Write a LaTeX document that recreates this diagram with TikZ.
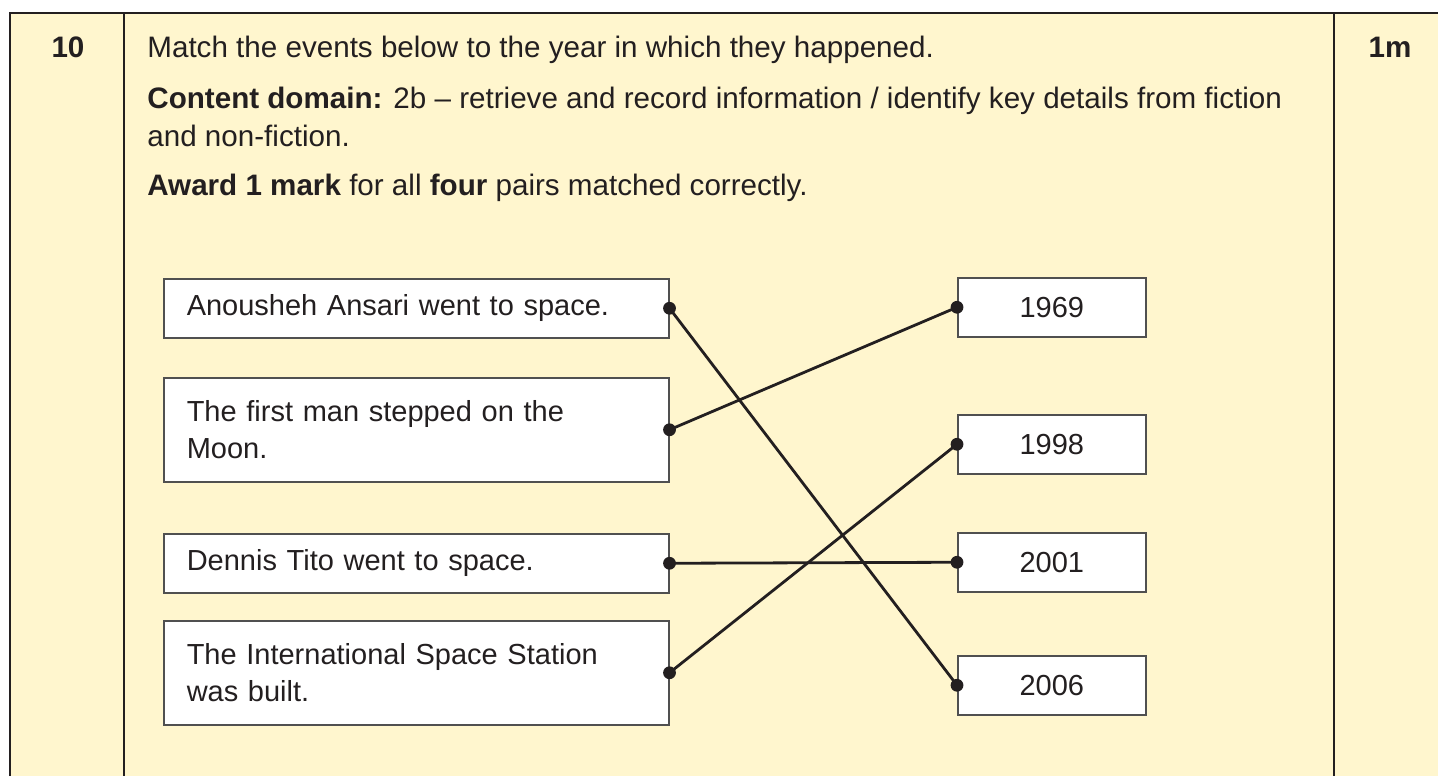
\documentclass[tikz,border=0pt]{standalone}
\usepackage{fontspec}
\setmainfont{Liberation Sans}
\usepackage{xcolor}
\usepackage{tikz}
\usetikzlibrary{positioning}
\definecolor{paleyellow}{RGB}{255,246,206}
\definecolor{ink}{RGB}{35,31,32}
\definecolor{boxgray}{RGB}{80,80,80}
\def\txt{\fontsize{14.8}{19}\selectfont}
\def\boxtxt{\fontsize{14.5}{18.75}\selectfont}

\tikzset{
  event/.style={draw=boxgray, line width=0.75pt, fill=white, anchor=north west, inner xsep=11.5pt, inner ysep=0pt, text width=229.5pt, align=left, font=\boxtxt, text=ink},
  year/.style={draw=boxgray, line width=0.75pt, fill=white, anchor=north west, minimum width=94pt, minimum height=29.5pt, inner sep=0pt, font=\boxtxt, text=ink},
  link/.style={line width=1.4pt, draw=ink},
  dot/.style={fill=ink}
}

\begin{document}
\begin{tikzpicture}[x=0.5pt, y=-0.5pt]
\useasboundingbox (0,0) rectangle (1438,776);
\fill[paleyellow] (10,13) rectangle (1438,776);
\draw[ink, line width=1.2pt] (10,776) -- (10,13) -- (1438,13);
\draw[ink, line width=0.8pt] (124,13) -- (124,776);
\draw[ink, line width=0.8pt] (1334,13) -- (1334,776);

\node[font=\txt\bfseries, text=ink] (qnum) at (68,47) {10};
\node[font=\txt\bfseries, text=ink] (marks) at (1390,47) {1m};

\node[anchor=base west, inner sep=0pt, font=\txt, text=ink] (task) at (147,57) {Match the events below to the year in which they happened.};
\node[anchor=north west, inner sep=0pt, align=left, font=\txt, text=ink] (domain) at (147,87) {\textbf{Content domain:} 2b -- retrieve and record information / identify key details from fiction\\and non-fiction.};
\node[anchor=base west, inner sep=0pt, font=\txt, text=ink] (award) at (147,195) {\textbf{Award 1 mark} for all \textbf{four} pairs matched correctly.};

% events
\node[event, minimum height=29.5pt] (ansari) at (163,278) {Anousheh Ansari went to space.};
\node[event, minimum height=52pt] (moon) at (163,377) {The first man stepped on the\\Moon.};
\node[event, minimum height=29.5pt] (tito) at (163,533) {Dennis Tito went to space.};
\node[event, minimum height=52pt] (iss) at (163,620) {The International Space Station\\was built.};

% years
\node[year] (y1969) at (957,277) {1969};
\node[year] (y1998) at (957,414) {1998};
\node[year] (y2001) at (957,532) {2001};
\node[year] (y2006) at (957,655) {2006};

% answers
\draw[link] (ansari.east) -- (y2006.west);
\draw[link] (moon.east) -- (y1969.west);
\draw[link] (tito.east) -- (y2001.west);
\draw[link] (iss.east) -- (y1998.west);

\foreach \n in {ansari, moon, tito, iss}
  \fill[dot] (\n.east) circle[radius=3.2pt];
\foreach \n in {y1969, y1998, y2001, y2006}
  \fill[dot] (\n.west) circle[radius=3.2pt];
\end{tikzpicture}
\end{document}
